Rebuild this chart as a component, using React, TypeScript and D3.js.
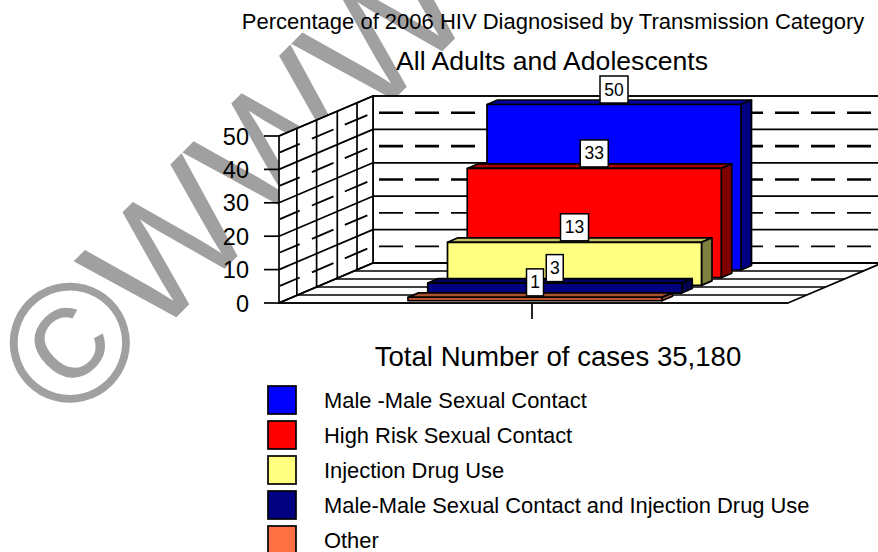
import { useEffect, useRef } from "react"
import * as d3 from "d3"

const titleMain = "Percentage of 2006 HIV Diagnosised by Transmission Category"
const titleSub = "All Adults and Adolescents"
const xTitle = "Total Number of cases 35,180"

// back row first, front row last
const categories = [
    "Male -Male Sexual Contact",
    "High Risk Sexual Contact",
    "Injection Drug Use",
    "Male-Male Sexual Contact and Injection Drug Use",
    "Other",
]
const values = [50, 33, 13, 3, 1]
const frontColors = ["#0000ff", "#ff0000", "#ffff80", "#000080", "#ff7043"]
const topColors = ["#0000a8", "#b00000", "#c0c060", "#000060", "#a85030"]
const sideColors = ["#000080", "#800000", "#808040", "#000050", "#a05030"]
const yTicks = [0, 10, 20, 30, 40, 50]
const wallDividers = [0.19, 0.4, 0.62, 0.83]
const floorRows = [0, 0.2, 0.4, 0.6, 0.8, 1]
const midValues = [5, 15, 25, 35, 45]
const wallDashes = [[0.01, 0.22], [0.35, 0.58], [0.7, 0.94]]

export default function App() {
    const ref = useRef<SVGSVGElement>(null)

    useEffect(() => {
        const svg = d3.select(ref.current)
        svg.selectAll("*").remove()

        const y = d3.scaleLinear().domain([0, 50]).range([303, 136])
        const depthX = d3.scaleLinear().domain([0, 1]).range([0, 94])
        const depthY = d3.scaleLinear().domain([0, 1]).range([0, -40])
        const x = d3.scaleLinear().domain([0, 1]).range([279, 788])
        const pt = (u: number, t: number, v: number): [number, number] => [x(u) + depthX(t), y(v) + depthY(t)]
        const poly = (pts: [number, number][]) => pts.map((p) => p.join(",")).join(" ")

        const g = svg.append("g").attr("font-family", "Liberation Sans, Arial, sans-serif")

        // watermark sits under the chart
        const mark = g.append("text")
            .attr("transform", "translate(67,428.5) rotate(-45)")
            .attr("fill", "#a0a0a0")
        mark.append("tspan").attr("font-size", 170).text("©")
        mark.append("tspan").attr("font-size", 163).attr("dx", -3).attr("dy", -1.5).text("WWW")

        // walls and floor
        const wall = (pts: [number, number][]) =>
            g.append("polygon")
                .attr("points", poly(pts))
                .attr("fill", "#fff").attr("stroke", "#000").attr("stroke-width", 1.7)
        wall([pt(0, 1, 0), pt(1, 1, 0), pt(1, 1, 50), pt(0, 1, 50)])
        wall([pt(0, 0, 0), pt(0, 1, 0), pt(0, 1, 50), pt(0, 0, 50)])
        wall([pt(0, 0, 0), pt(1, 0, 0), pt(1, 1, 0), pt(0, 1, 0)])

        const line = (a: [number, number], b: [number, number], w = 1.7) =>
            g.append("line")
                .attr("x1", a[0]).attr("y1", a[1]).attr("x2", b[0]).attr("y2", b[1])
                .attr("stroke", "#000").attr("stroke-width", w)

        yTicks.forEach((v) => {
            line(pt(0, 0, v), pt(0, 1, v))
            line(pt(0, 1, v), pt(1, 1, v))
            line([264, y(v)], pt(0, 0, v))
            g.append("text")
                .attr("x", 249).attr("y", y(v) + 8.5)
                .attr("text-anchor", "end").attr("font-size", 23.5)
                .text(v)
        })
        wallDividers.forEach((t) => line(pt(0, t, 0), pt(0, t, 50)))
        floorRows.forEach((t) => line(pt(0, t, 0), pt(1, t, 0)))

        // dashed lines half way between gridlines
        midValues.forEach((v) => {
            const w = v > 20 ? 2.6 : 1.7
            g.append("line")
                .attr("x1", 379).attr("x2", 878)
                .attr("y1", pt(0, 1, v)[1]).attr("y2", pt(0, 1, v)[1])
                .attr("stroke", "#000").attr("stroke-width", w)
                .attr("stroke-dasharray", "24 12")
            wallDashes.forEach(([a, b]) => line(pt(0, a, v), pt(0, b, v), 1.9))
        })

        // bars
        const rowX = d3.scaleLinear().domain([0, 4]).range([487, 408])
        const rowY = d3.scaleLinear().domain([0, 4]).range([270, 300.7])
        const barWidth = 254
        const h = d3.scaleLinear().domain([0, 50]).range([0, 165.5])
        const dx = 10.5
        const dy = 4.5

        categories.forEach((_, i) => {
            const x0 = rowX(i)
            const x1 = x0 + barWidth
            const yb = rowY(i)
            const yt = yb - h(values[i])
            const bar = g.append("g").attr("stroke", "#000").attr("stroke-width", 1.7).attr("stroke-linejoin", "round")
            bar.append("polygon")
                .attr("points", poly([[x0, yt], [x0 + dx, yt - dy], [x1 + dx, yt - dy], [x1, yt]]))
                .attr("fill", topColors[i])
            bar.append("polygon")
                .attr("points", poly([[x1, yt], [x1 + dx, yt - dy], [x1 + dx, yb - dy], [x1, yb]]))
                .attr("fill", sideColors[i])
            bar.append("rect")
                .attr("x", x0).attr("y", yt).attr("width", barWidth).attr("height", yb - yt)
                .attr("fill", frontColors[i])
        })

        // category tick
        line([532, 303], [532, 319])

        // value labels, front rows drawn last
        categories.forEach((_, i) => {
            const cx = rowX(i) + barWidth / 2
            const bottom = rowY(i) - h(values[i]) - 1.5
            const w = values[i] >= 10 ? 28 : 17
            g.append("rect")
                .attr("x", cx - w / 2).attr("y", bottom - 27).attr("width", w).attr("height", 27)
                .attr("fill", "#fff").attr("stroke", "#000").attr("stroke-width", 1.5)
            g.append("text")
                .attr("x", cx).attr("y", bottom - 7.5)
                .attr("text-anchor", "middle").attr("font-size", 17.5)
                .text(values[i])
        })

        // titles
        g.append("text").attr("x", 553).attr("y", 29).attr("text-anchor", "middle").attr("font-size", 22).text(titleMain)
        g.append("text").attr("x", 552).attr("y", 70).attr("text-anchor", "middle").attr("font-size", 26.6).text(titleSub)
        g.append("text").attr("x", 558).attr("y", 366).attr("text-anchor", "middle").attr("font-size", 27.6).text(xTitle)

        // legend
        const legendY = d3.scaleLinear().domain([0, 4]).range([386, 526])
        categories.forEach((c, i) => {
            g.append("rect")
                .attr("x", 268).attr("y", legendY(i)).attr("width", 28).attr("height", 28)
                .attr("fill", frontColors[i]).attr("stroke", "#000").attr("stroke-width", 1.7)
            g.append("text")
                .attr("x", 324).attr("y", legendY(i) + 21.5)
                .attr("font-size", 21.9)
                .text(c)
        })
    }, [])

    return (
        <svg ref={ref} width={878} height={552} style={{ position: "absolute", left: 0, top: 0 }}></svg>
    )
}
